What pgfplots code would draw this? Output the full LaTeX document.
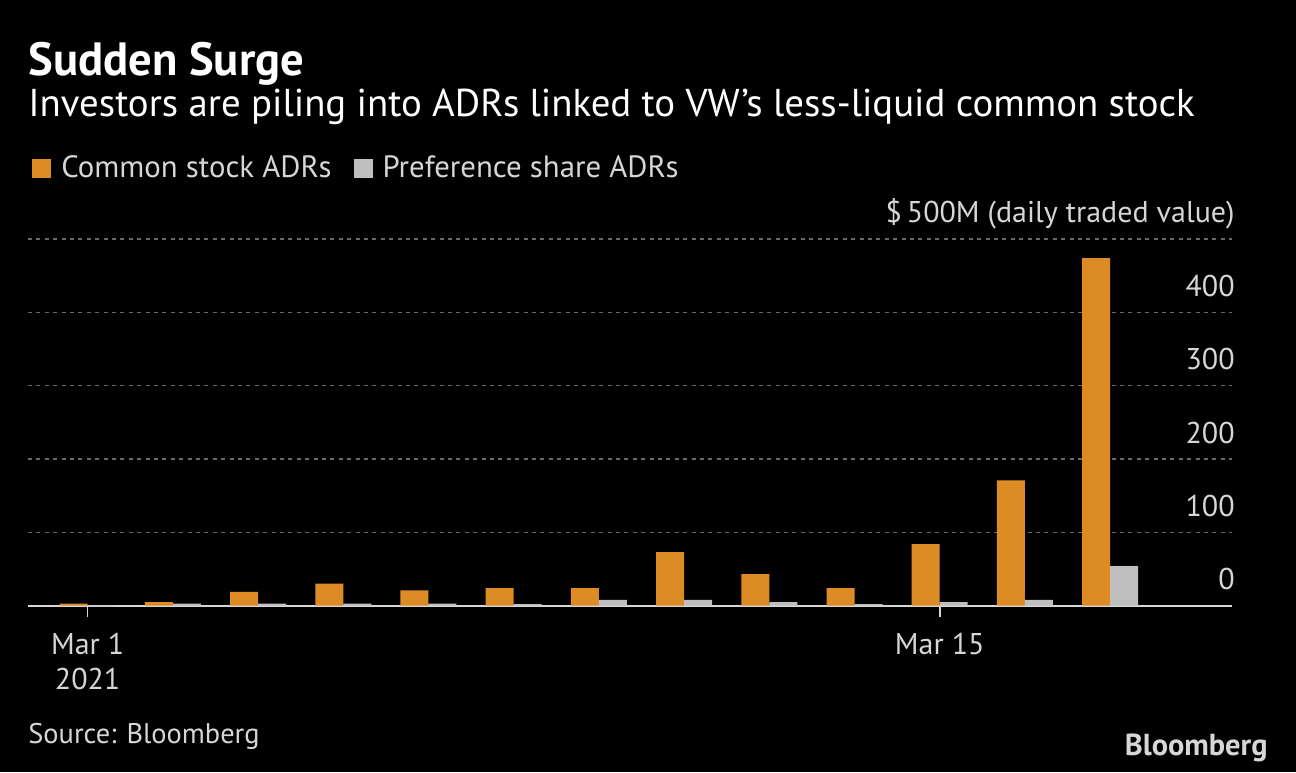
\documentclass[border=0pt]{standalone}
\usepackage{pgfplots}
\pgfplotsset{compat=1.18}
\usepackage{fontspec}
\setmainfont{PT Sans}
\definecolor{cOrange}{RGB}{221,139,36}
\definecolor{cGray}{RGB}{191,191,191}
\definecolor{cText}{RGB}{214,214,214}
\definecolor{cGrid}{RGB}{105,105,105}
\pagecolor{black}
\begin{document}
\begin{tikzpicture}
\path (0,0) rectangle (648pt,386pt);
% titles
\node[anchor=base west, inner sep=0pt, text=white, font=\fontsize{23.3}{27}\selectfont\bfseries] at (14pt,348pt) {Sudden Surge};
\node[anchor=base west, inner sep=0pt, text=white, font=\fontsize{19.4}{23}\selectfont] at (14pt,327.5pt) {Investors are piling into ADRs linked to VW's less-liquid common stock};
\node[anchor=base west, inner sep=0pt, text=cText, font=\fontsize{14.2}{17}\selectfont] at (14pt,14.5pt) {Source: Bloomberg};
\node[anchor=base east, inner sep=0pt, text=cText, font=\fontsize{15.2}{17}\selectfont\bfseries] at (634pt,8.5pt) {Bloomberg};
\begin{axis}[
  at={(14pt,83.15pt)}, anchor=south west,
  scale only axis, width=602pt, height=183.35pt,
  xmin=-0.7, xmax=13.43, ymin=0, ymax=500,
  clip=false,
  axis x line*=bottom, axis y line*=right,
  x axis line style={draw=cText, line width=1pt},
  y axis line style={draw=none},
  xtick={0,10}, xticklabels={{Mar 1\\2021},{Mar 15}},
  xtick style={draw=cText, line width=0.8pt},
  tick align=outside, major tick length=5.5pt,
  xticklabel style={align=center, text=cText, font=\fontsize{15}{17.5}\selectfont, inner sep=0pt, anchor=north, yshift=-8pt},
  ytick={0,100,200,300,400,500},
  yticklabels={0,100,200,300,400,{\$\hspace{2.5pt}500M (daily traded value)}},
  ytick style={draw=none},
  yticklabel style={anchor=base east, inner sep=0pt, text=cText, font=\fontsize{15}{17}\selectfont, xshift=-4pt, yshift=8pt},
  ymajorgrids, grid style={draw=cGrid, line width=0.6pt, dash pattern=on 2pt off 2.2pt},
  ybar, bar width=14pt,
  legend columns=2,
  legend style={at={(0,1)}, anchor=south west, xshift=2pt, yshift=27pt, draw=none, fill=none, text=cText, font=\fontsize{15.4}{17}\selectfont, inner sep=0pt, /tikz/every even column/.append style={column sep=6pt}, nodes={inner xsep=5pt}},
  legend image code/.code={\fill[#1] (0pt,-4.75pt) rectangle (9.5pt,4.75pt);},
]
\addplot[fill=cOrange, draw=none, bar shift=-7pt] coordinates {
(0,3) (1,5) (2,19) (3,30) (4,21) (5,24) (6,24) (7,73) (8,43) (9,24) (10,84) (11,171) (12,474)};
\addplot[fill=cGray, draw=none, bar shift=7pt] coordinates {
(0,-1) (1,3) (2,3) (3,3) (4,3) (5,2) (6,8) (7,8) (8,5) (9,2) (10,5) (11,8) (12,54)};
\legend{Common stock ADRs, Preference share ADRs}
\end{axis}
\pgfresetboundingbox
\path[use as bounding box] (0,0) rectangle (648pt,386pt);
\end{tikzpicture}
\end{document}
